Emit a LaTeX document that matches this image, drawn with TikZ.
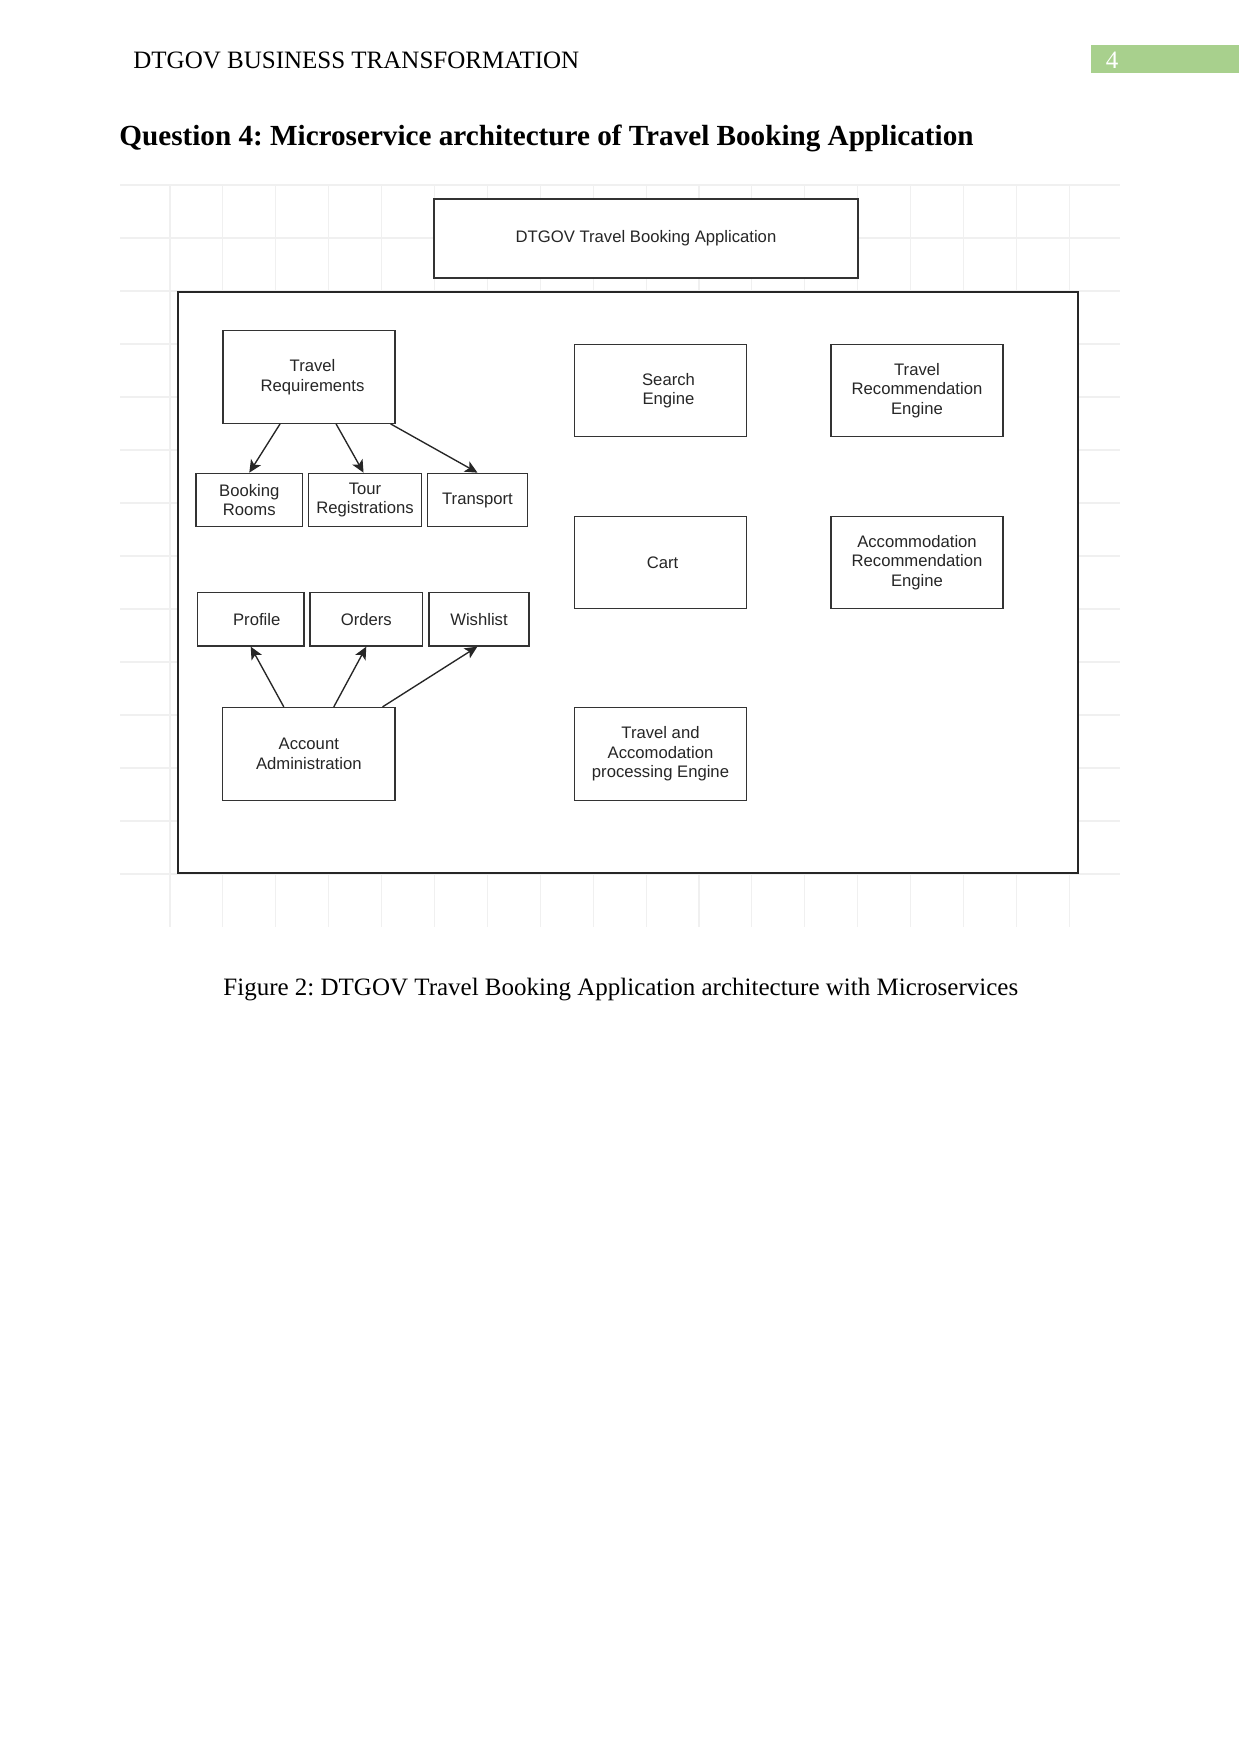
\documentclass[tikz,border=0pt]{standalone}
\usepackage{fontspec}
\setmainfont{Liberation Serif}
\newfontfamily\boxfont{Liberation Sans}
\usetikzlibrary{arrows.meta}
\definecolor{pggreen}{HTML}{A8D08D}
\definecolor{gridc}{HTML}{F0F0F0}
\definecolor{edgec}{HTML}{333333}
\frenchspacing
\begin{document}
\begin{tikzpicture}[x=0.48pt,y=-0.48pt,
  svc/.style={draw=edgec, line width=0.65pt, fill=white, align=center,
    font=\boxfont\fontsize{8}{9.4}\selectfont, text=black!85, inner sep=0pt},
  link/.style={draw=black!85, line width=0.65pt,
    -{Stealth[length=6pt,width=5.6pt,inset=1.5pt]}},
  gridline/.style={draw=gridc, line width=0.5pt},
  doctext/.style={anchor=base west, font=\fontsize{12}{14}\selectfont, inner sep=0pt},
]
\useasboundingbox[fill=white] (0,0) rectangle (1241,1754);

% header
\node[doctext] (hdr) at (133,68) {DTGOV BUSINESS TRANSFORMATION};
\fill[pggreen] (1091,45) rectangle (1239,73);
\node[anchor=base, text=white, font=\fontsize{12}{14}\selectfont, inner sep=0pt] (pgnum) at (1112,68) {4};

% title
\node[doctext, font=\bfseries\fontsize{14}{16}\selectfont] (title) at (119,145)
  {Question 4: Microservice architecture of Travel Booking Application};

% grid background
\foreach \k in {0,...,17} {
  \draw[gridline] ({170+52.9*\k},185) -- ({170+52.9*\k},927);
}
\foreach \k in {0,...,13} {
  \draw[gridline] (120,{185+53*\k}) -- (1120,{185+53*\k});
}

% boxes
\node[svc, minimum width=203.5pt, minimum height=37.9pt] (app) at (646,238.5)
  {DTGOV Travel Booking Application};
\node[draw=black!85, line width=0.9pt, fill=white, minimum width=432pt,
  minimum height=278.9pt, inner sep=0pt] (container) at (628,582.5) {};

\node[svc, minimum width=82.6pt, minimum height=44.4pt] (treq) at (309,377)
  {\hspace*{3.4pt}Travel\\\hspace*{3.4pt}Requirements};
\node[svc, minimum width=51.2pt, minimum height=25.6pt] (booking) at (249.3,500)
  {Booking\\Rooms};
\node[svc, minimum width=54.4pt, minimum height=25.6pt] (tour) at (365,500)
  {Tour\\Registrations};
\node[svc, minimum width=47.8pt, minimum height=25.6pt] (transport) at (477.5,500)
  {Transport};

\node[svc, minimum width=51.2pt, minimum height=25.6pt] (profile) at (250.7,619.3)
  {\hspace*{5.8pt}Profile};
\node[svc, minimum width=54.1pt, minimum height=25.6pt] (orders) at (366.3,619.3)
  {Orders};
\node[svc, minimum width=48pt, minimum height=25.6pt] (wishlist) at (479,619.3)
  {Wishlist};
\node[svc, minimum width=82.6pt, minimum height=44.6pt] (account) at (308.8,754)
  {Account\\Administration};

\node[svc, minimum width=82.6pt, minimum height=44.4pt] (search) at (660.5,390.5)
  {\hspace*{7.7pt}Search\\\hspace*{7.7pt}Engine};
\node[svc, minimum width=82.6pt, minimum height=44.4pt] (travelrec) at (917,390.5)
  {Travel\\Recommendation\\Engine};
\node[svc, minimum width=82.6pt, minimum height=44.4pt] (cart) at (660.5,562.5)
  {\hspace*{2pt}Cart};
\node[svc, minimum width=82.6pt, minimum height=44.4pt] (accrec) at (917,562.5)
  {Accommodation\\Recommendation\\Engine};
\node[svc, minimum width=82.6pt, minimum height=44.4pt] (proc) at (660.5,754)
  {Travel and\\Accomodation\\processing Engine};

% connectors
\draw[link] ([xshift=-13.9pt]treq.south) -- (booking.north);
\draw[link] ([xshift=13pt]treq.south) -- ([xshift=-0.7pt]tour.north);
\draw[link] ([xshift=39.2pt]treq.south) -- (transport.north);

\draw[link] ([xshift=-12pt]account.north) -- (profile.south);
\draw[link] ([xshift=12pt]account.north) -- (orders.south);
\draw[link] ([xshift=35.4pt]account.north) -- ([xshift=-0.8pt]wishlist.south);

% caption
\node[doctext] (caption) at (223,995)
  {Figure 2: DTGOV Travel Booking Application architecture with Microservices};
\end{tikzpicture}
\end{document}
